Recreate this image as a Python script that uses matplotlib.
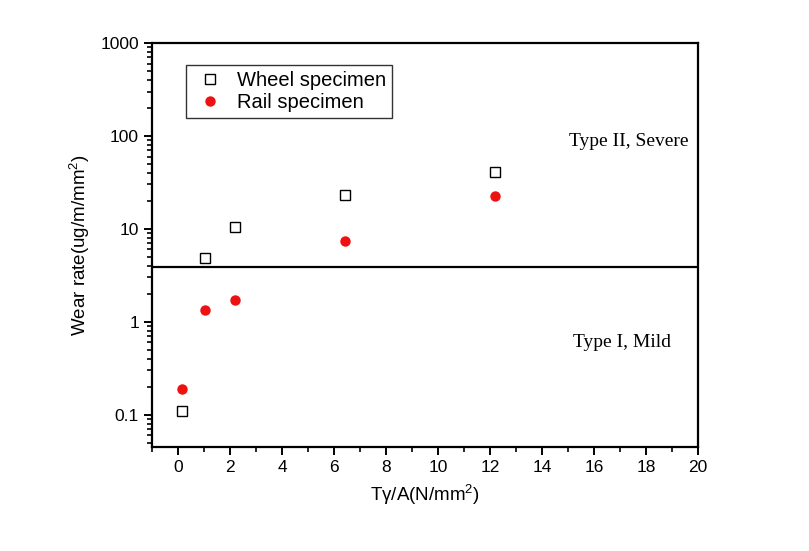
import numpy as np
import matplotlib
matplotlib.use('Agg')
import matplotlib.pyplot as plt
from matplotlib.ticker import LogLocator, FixedLocator, NullFormatter, FuncFormatter

# wear data
wheel_x = [0.14, 1.05, 2.2, 6.4, 12.2]
wheel_rate = [0.109, 4.9, 10.4, 23.0, 40.4]
rail_x = [0.14, 1.05, 2.2, 6.4, 12.2]
rail_rate = [0.189, 1.34, 1.71, 7.4, 22.5]
transition = 3.9

plt.rcParams['font.family'] = ['Liberation Sans', 'DejaVu Sans']
plt.rcParams['mathtext.default'] = 'regular'

fig = plt.figure(figsize=(8.09, 5.51), dpi=100)
ax = fig.add_axes([0.188, 0.189, 0.675, 0.733])

ax.plot(wheel_x, wheel_rate, 's', mfc='white', mec='black', mew=1.0, ms=7,
        label='Wheel specimen', zorder=3)
ax.plot(rail_x, rail_rate, 'o', color='#ee1111', ms=7.5, mec='none',
        label='Rail specimen', zorder=3)
ax.axhline(transition, color='black', lw=1.6)

ax.set_yscale('log')
ax.set_ylim(0.045, 1000)
ax.set_xlim(-1, 20)
ax.set_xticks(np.arange(0, 21, 2))
ax.xaxis.set_minor_locator(FixedLocator(np.arange(-1, 20, 2)))
ax.yaxis.set_major_locator(FixedLocator([0.1, 1, 10, 100, 1000]))
ax.yaxis.set_major_formatter(FuncFormatter(lambda v, p: '%g' % v))
ax.yaxis.set_minor_locator(LogLocator(base=10, subs=np.arange(2, 10)))
ax.yaxis.set_minor_formatter(NullFormatter())

for s in ax.spines.values():
    s.set_linewidth(1.6)
ax.tick_params(which='major', direction='out', length=6, width=1.4, labelsize=12.5)
ax.tick_params(which='minor', direction='out', length=3.5, width=1.2)

ax.set_xlabel('Tγ/A(N/mm$^2$)', fontsize=13.5, labelpad=6)
ax.set_ylabel('Wear rate(ug/m/mm$^2$)', fontsize=13.5, labelpad=6)

# regime labels
ax.text(0.982, 0.755, 'Type II, Severe', transform=ax.transAxes, ha='right',
        va='center', fontsize=14, family='Liberation Serif')
ax.text(0.95, 0.258, 'Type I, Mild', transform=ax.transAxes, ha='right',
        va='center', fontsize=14, family='Liberation Serif')

leg = ax.legend(loc='upper left', bbox_to_anchor=(0.062, 0.946), fontsize=14.5,
                frameon=True, fancybox=False, edgecolor='black',
                borderaxespad=0, handletextpad=0.45, borderpad=0.3,
                labelspacing=0.15, handlelength=1.8)
leg.get_frame().set_linewidth(1.0)

fig.savefig('out.png', dpi=100)
